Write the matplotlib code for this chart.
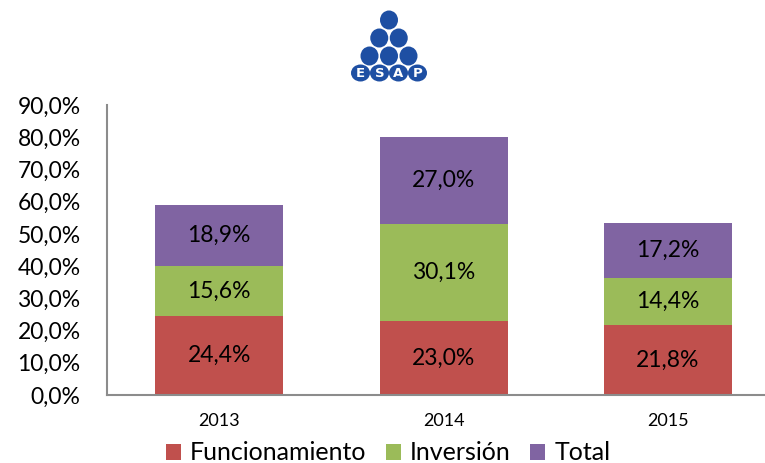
import matplotlib.pyplot as plt
from matplotlib.patches import Ellipse

plt.rcParams['font.family'] = ['Lato', 'DejaVu Sans']

years = ['2013', '2014', '2015']
funcionamiento = [24.4, 23.0, 21.8]
inversion = [15.6, 30.1, 14.4]
total = [18.9, 27.0, 17.2]
series_names = ['Funcionamiento', 'Inversión', 'Total']
colors = ['#C0504D', '#9BBB59', '#8064A2']
y_ticks = [0, 10, 20, 30, 40, 50, 60, 70, 80, 90]


def pct(v):
    return f'{v:.1f}%'.replace('.', ',')


fig = plt.figure(figsize=(7.65, 4.63), dpi=100)
ax = fig.add_axes([107 / 765, 68 / 463, 1 - 107 / 765, 290 / 463])

x = list(range(len(years)))
bottom = [0.0] * len(years)
for name, vals, col in zip(series_names, [funcionamiento, inversion, total], colors):
    ax.bar(x, vals, width=0.57, bottom=bottom, color=col, label=name)
    for xi, b, v in zip(x, bottom, vals):
        ax.text(xi, b + v / 2, pct(v), ha='center', va='center', fontsize=16.5, color='black')
    bottom = [b + v for b, v in zip(bottom, vals)]

ax.set_xlim(-0.5, 2.432)
ax.set_ylim(0, 90)
ax.set_yticks(y_ticks)
ax.set_yticklabels([pct(t) for t in y_ticks], fontsize=16.5)
ax.set_xticks(x)
ax.set_xticklabels(years, fontsize=13)
ax.tick_params(axis='y', length=0, pad=19)
ax.tick_params(axis='x', length=0, pad=13)
for s in ['top', 'right']:
    ax.spines[s].set_visible(False)
for s in ['left', 'bottom']:
    ax.spines[s].set_color('#8C8C8C')
    ax.spines[s].set_linewidth(1.5)

fig.legend(loc='center', bbox_to_anchor=(388 / 765, 1 - 453 / 463), ncol=3,
           frameon=False, fontsize=18, handlelength=0.6, handleheight=0.6,
           handletextpad=0.35, columnspacing=0.8, borderpad=0)

# ESAP logo drawn in pixel coordinates
logo = fig.add_axes([0, 0, 1, 1])
logo.set_xlim(0, 765)
logo.set_ylim(463, 0)
logo.axis('off')
blue = '#1E4FA3'
cx = 389
row_y = [20, 38, 56, 73]
for k, yy in enumerate(row_y[:3]):
    for i in range(k + 1):
        logo.add_patch(Ellipse((cx + (i - k / 2) * 19.5, yy), 18, 19,
                               facecolor=blue, linewidth=0))
for i, letter in enumerate('ESAP'):
    xx = cx + (i - 1.5) * 19
    logo.add_patch(Ellipse((xx, row_y[3]), 19, 17, facecolor=blue, linewidth=0))
    logo.text(xx, row_y[3] + 0.5, letter, color='white', fontsize=9.5, fontweight='bold',
              ha='center', va='center', family='DejaVu Sans')

fig.savefig('out.png', dpi=100)
